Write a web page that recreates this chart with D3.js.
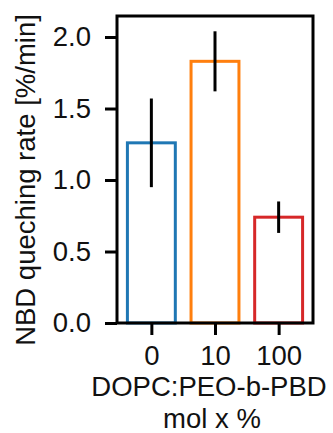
<!DOCTYPE html>
<html>
<head>
<meta charset="utf-8">
<script src="https://cdn.jsdelivr.net/npm/d3@7"></script>
<style>
  body { margin: 0; background: #fff; }
  text { font-family: "Liberation Sans", Arial, sans-serif; fill: #111; }
</style>
</head>
<body>
<svg id="chart" width="333" height="433"></svg>
<script>
// Dữ liệu
const categories = ["0", "10", "100"];
const rates = [1.26, 1.83, 0.74];
const errors = [0.31, 0.21, 0.11];
const yTicks = [0.0, 0.5, 1.0, 1.5, 2.0];
const colors = ["#1f77b4", "#ff7f0e", "#d62728"];

const svg = d3.select("#chart"),
      margin = {top: 16, right: 20, bottom: 110, left: 117},
      width = +svg.attr("width") - margin.left - margin.right,
      height = +svg.attr("height") - margin.top - margin.bottom;

const fs = "27.5px";

const g = svg.append("g")
             .attr("transform", `translate(${margin.left},${margin.top})`);

const x = d3.scaleLinear().domain([-0.54, 2.54]).range([0, width]);
const y = d3.scaleLinear().domain([0, 2.147]).range([height, 0]);
const barW = x(0.8) - x(0);

// Cột
g.selectAll("rect.bar")
  .data(rates)
  .enter().append("rect")
    .attr("class", "bar")
    .attr("x", (d, i) => x(i) - barW / 2 + 1.5)
    .attr("y", d => y(d))
    .attr("width", barW - 3)
    .attr("height", d => y(0) - y(d))
    .attr("fill", "none")
    .attr("stroke", (d, i) => colors[i])
    .attr("stroke-width", 3);

// Thanh sai số
g.selectAll("line.err")
  .data(rates)
  .enter().append("line")
    .attr("class", "err")
    .attr("x1", (d, i) => x(i))
    .attr("x2", (d, i) => x(i))
    .attr("y1", (d, i) => y(d - errors[i]))
    .attr("y2", (d, i) => y(d + errors[i]))
    .attr("stroke", "#000")
    .attr("stroke-width", 3);

// Trục Y
const yAxis = g.append("g")
  .call(d3.axisLeft(y).tickValues(yTicks).tickFormat(d3.format(".1f")).tickSize(12).tickPadding(14));
yAxis.selectAll("text").style("font-size", fs);

// Trục X
const xAxis = g.append("g")
  .attr("transform", `translate(0,${height})`)
  .call(d3.axisBottom(x).tickValues([0, 1, 2]).tickFormat(i => categories[i]).tickSize(12).tickPadding(10));
xAxis.selectAll("text").style("font-size", fs);

[yAxis, xAxis].forEach(a => {
  a.select(".domain").remove();
  a.selectAll("line").attr("stroke", "#000").attr("stroke-width", 3);
});

// Khung
g.append("rect")
  .attr("width", width)
  .attr("height", height)
  .attr("fill", "none")
  .attr("stroke", "#000")
  .attr("stroke-width", 3);

// Nhãn trục
svg.append("text")
  .attr("transform", "translate(35,180) rotate(-90)")
  .attr("text-anchor", "middle")
  .style("font-size", fs)
  .text("NBD queching rate [%/min]");

svg.append("text")
  .attr("x", 209)
  .attr("y", 396)
  .attr("text-anchor", "middle")
  .style("font-size", fs)
  .text("DOPC:PEO-b-PBD");

svg.append("text")
  .attr("x", 212)
  .attr("y", 428)
  .attr("text-anchor", "middle")
  .style("font-size", fs)
  .text("mol x %");
</script>
</body>
</html>
